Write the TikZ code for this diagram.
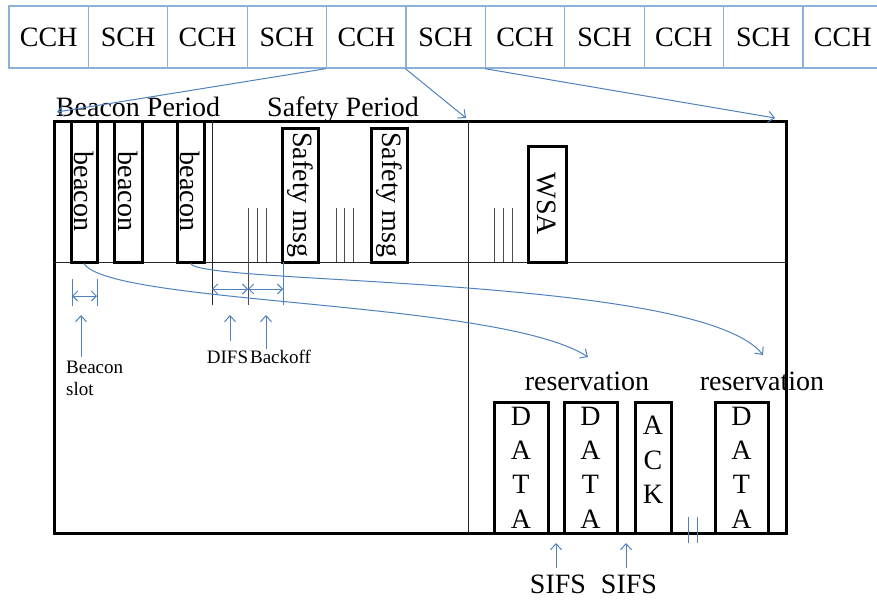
\documentclass[tikz,border=0pt]{standalone}
\usepackage{fontspec}
\setmainfont{Liberation Serif}
\usetikzlibrary{arrows.meta}
\definecolor{linkblue}{RGB}{79,129,189}
\definecolor{barblue}{RGB}{141,176,219}

\begin{document}
\begin{tikzpicture}[x=1pt,y=-1pt,
  big/.style={font=\fontsize{28}{34.3}\selectfont},
  small/.style={font=\fontsize{19}{22}\selectfont},
  cell/.style={draw=barblue, line width=1.3pt, minimum width=79.4pt,
    minimum height=62pt, inner sep=0pt, big},
  slotbox/.style={draw=black, line width=3pt, inner sep=0pt, big},
  frame/.style={draw=black, line width=3pt, inner sep=0pt},
  thinline/.style={line width=1pt, black!85},
  tick/.style={line width=1pt, black!70},
  link/.style={draw=linkblue, line width=1pt},
  tip/.style={-{Straight Barb[length=6pt,width=11pt]}},
  dbl/.style={{Straight Barb[length=5pt,width=10pt]}-{Straight Barb[length=5pt,width=10pt]}},
  lbl/.style={inner sep=0pt, big},
  slbl/.style={inner sep=0pt, small}
]
\useasboundingbox (0,0) rectangle (877,599);

% channel timeline
\foreach \i/\t in {1/CCH,2/SCH,3/CCH,4/SCH,5/CCH,6/SCH,7/CCH,8/SCH,9/CCH,10/SCH,11/CCH}
  \node[cell] (c\i) at ({9+79.4*(\i-0.5)},37) {\t};

% interval frame
\node[frame, minimum width=732pt, minimum height=412pt] (frm) at (420,327) {};
\draw[thinline] (54,262) -- (786,262);
\draw[thinline] (212,121) -- (212,305);
\draw[thinline] (468,121) -- (468,533);

% period titles
\node[lbl, anchor=base] (bp) at (138,117) {Beacon Period};
\node[lbl, anchor=base] (sp) at (343,117) {Safety Period};

% beacon slots
\node[slotbox, rotate=-90, minimum width=141pt, minimum height=26pt] (b1) at (84,191.5) {beacon};
\node[slotbox, rotate=-90, minimum width=141pt, minimum height=28pt] (b2) at (128,191.5) {beacon};
\node[slotbox, rotate=-90, minimum width=141pt, minimum height=27pt] (b3) at (190.5,191.5) {beacon};

% safety messages and WSA
\node[slotbox, rotate=-90, minimum width=134pt, minimum height=36pt] (s1) at (300,195) {Safety msg};
\node[slotbox, rotate=-90, minimum width=134pt, minimum height=36pt] (s2) at (389,195) {Safety msg};
\node[slotbox, rotate=-90, minimum width=116pt, minimum height=38pt] (wsa) at (547,204) {WSA};

% backoff ticks
\foreach \x in {248,257,266,336,344,353,494,503,512}
  \draw[tick] (\x,208) -- (\x,262);
\draw[tick] (248,262) -- (248,305);

% service channel frames
\node[slotbox, align=center, minimum width=54pt, minimum height=131pt] (d1) at (521,467.5) {D\\A\\T\\A};
\node[slotbox, align=center, minimum width=53pt, minimum height=131pt] (d2) at (590.5,467.5) {D\\A\\T\\A};
\node[slotbox, minimum width=36pt, minimum height=131pt] (ack) at (653,467.5) {};
\node[lbl, align=center] (acktxt) at (653,460) {A\\C\\K};
\node[slotbox, align=center, minimum width=53pt, minimum height=131pt] (d4) at (741.5,467.5) {D\\A\\T\\A};

\node[lbl, anchor=base] (res1) at (587,390) {reservation};
\node[lbl, anchor=base] (res2) at (762,390) {reservation};

% timing marks
\draw[link] (72,279) -- (72,306);
\draw[link] (97,279) -- (97,306);
\draw[link] (283,262) -- (283,305);
\coordinate (sa) at (72,296);  \coordinate (sb) at (97,296);
\coordinate (da) at (212,289); \coordinate (db) at (248,289); \coordinate (dc) at (283,289);
\draw[link, dbl] (sa) -- (sb);
\draw[link, dbl] (da) -- (db);
\draw[link, dbl] (db) -- (dc);

% timing labels
\node[slbl, anchor=north west, align=left] (slotlbl) at (66,360.4) {Beacon\\slot};
\node[slbl, anchor=base] (difs) at (227.5,363) {DIFS};
\node[slbl, anchor=base] (boff) at (280.5,363) {Backoff};
\coordinate (u1a) at (81,357);  \coordinate (u1b) at (81,315);
\coordinate (u2a) at (230,341); \coordinate (u2b) at (230,315);
\coordinate (u3a) at (266,349); \coordinate (u3b) at (266,315);
\draw[link, tip] (u1a) -- (u1b);
\draw[link, tip] (u2a) -- (u2b);
\draw[link, tip] (u3a) -- (u3b);

% SIFS
\node[lbl, anchor=base] (sifs1) at (558,593.5) {SIFS};
\node[lbl, anchor=base] (sifs2) at (629,593.5) {SIFS};
\coordinate (v1a) at (556,568); \coordinate (v1b) at (556,543);
\coordinate (v2a) at (626,568); \coordinate (v2b) at (626,543);
\draw[link, tip] (v1a) -- (v1b);
\draw[link, tip] (v2a) -- (v2b);

% break mark
\draw[link] (688,517) -- (688,543);
\draw[link] (697,517) -- (697,543);

% zoom links from timeline
\coordinate (t1) at (57,112);
\coordinate (t2) at (466,118);
\coordinate (t3) at (775,118);
\draw[link, tip] (c5.south west) -- (t1);
\draw[link, tip] (c6.south west) -- (t2);
\draw[link, tip] (c7.south west) -- (t3);

% reservation links
\coordinate (r1) at (588,357);
\coordinate (r2) at (763,355);
\draw[link, tip] (b1.east) .. controls (110,305) and (500,300) .. (r1);
\draw[link, tip] (b3.east) .. controls (200,285) and (700,275) .. (r2);
\end{tikzpicture}
\end{document}
